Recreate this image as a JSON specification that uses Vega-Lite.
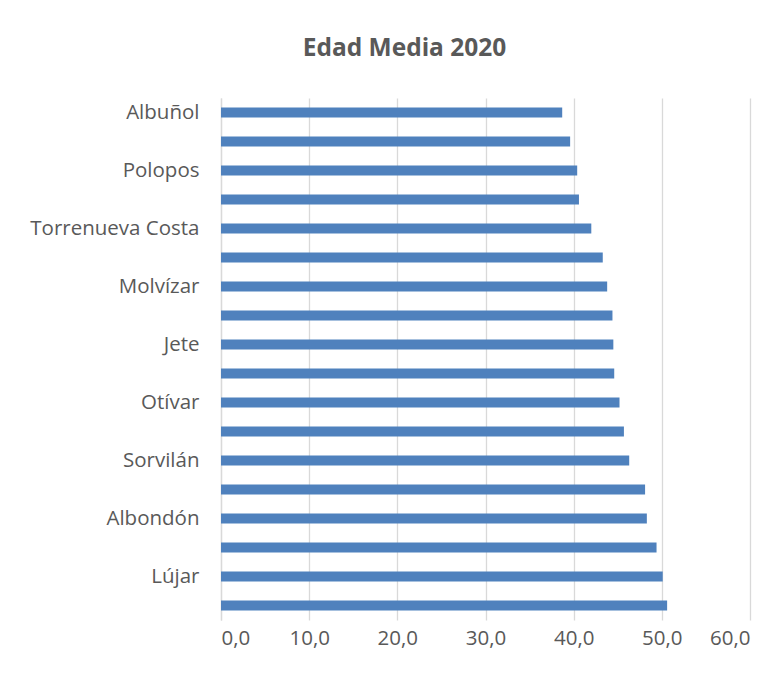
{
  "$schema": "https://vega.github.io/schema/vega-lite/v6.json",
  "width": 529,
  "height": 522,
  "autosize": {"type": "none"},
  "padding": {"left": 221, "top": 98, "right": 34, "bottom": 55},
  "background": "white",
  "title": {
    "text": "Edad Media 2020",
    "font": "Open Sans",
    "fontSize": 24.5,
    "fontWeight": "bold",
    "color": "#595959",
    "anchor": "middle",
    "dx": -81,
    "offset": 37
  },
  "data": {
    "values": [
      {"municipio": "Albuñol", "edad": 38.7},
      {"municipio": "Vélez de Benaudalla", "edad": 39.6},
      {"municipio": "Polopos", "edad": 40.4},
      {"municipio": "Motril", "edad": 40.6},
      {"municipio": "Torrenueva Costa", "edad": 42.0},
      {"municipio": "Salobreña", "edad": 43.3},
      {"municipio": "Molvízar", "edad": 43.8},
      {"municipio": "Almuñécar", "edad": 44.4},
      {"municipio": "Jete", "edad": 44.5},
      {"municipio": "Ítrabo", "edad": 44.6},
      {"municipio": "Otívar", "edad": 45.2},
      {"municipio": "Gualchos", "edad": 45.7},
      {"municipio": "Sorvilán", "edad": 46.3},
      {"municipio": "Los Guájares", "edad": 48.1},
      {"municipio": "Albondón", "edad": 48.3},
      {"municipio": "Lentegí", "edad": 49.4},
      {"municipio": "Lújar", "edad": 50.1},
      {"municipio": "Rubite", "edad": 50.6}
    ]
  },
  "mark": {"type": "bar", "color": "#4F81BD"},
  "encoding": {
    "y": {
      "field": "municipio",
      "type": "nominal",
      "sort": null,
      "scale": {"paddingInner": 0.65, "paddingOuter": 0.325},
      "axis": {
        "title": null,
        "ticks": false,
        "grid": false,
        "domainColor": "#d9d9d9",
        "domainWidth": 1.3,
        "labelFont": "Open Sans",
        "labelFontSize": 20.5,
        "labelColor": "#595959",
        "labelPadding": 22,
        "labelLimit": 260,
        "labelExpr": "indexof(['Albuñol','Polopos','Torrenueva Costa','Molvízar','Jete','Otívar','Sorvilán','Albondón','Lújar'], datum.label) >= 0 ? datum.label : ''"
      }
    },
    "x": {
      "field": "edad",
      "type": "quantitative",
      "scale": {"domain": [0, 60], "nice": false},
      "axis": {
        "title": null,
        "values": [0, 10, 20, 30, 40, 50, 60],
        "labelExpr": "replace(format(datum.value, '.1f'), '.', ',')",
        "domain": false,
        "ticks": false,
        "gridColor": "#d9d9d9",
        "gridWidth": 1.3,
        "labelFont": "Open Sans",
        "labelFontSize": 20.5,
        "labelColor": "#595959",
        "labelPadding": 8
      }
    }
  },
  "config": {"view": {"stroke": null}}
}
